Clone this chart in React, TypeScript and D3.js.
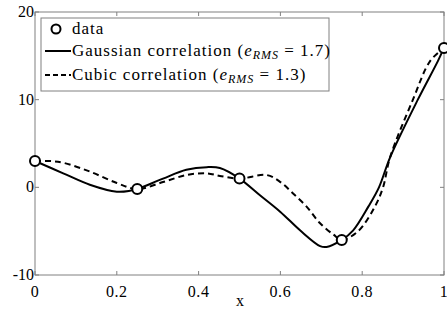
import * as d3 from "d3";
import { useEffect, useRef } from "react";

// sample points (x) and observed values
const dataX = [0, 0.25, 0.5, 0.75, 1];
const dataY = [3.0, -0.2, 1.0, -6.0, 15.9];

// Gaussian correlation curve
const gaussX = [0, 0.069, 0.134, 0.2, 0.232, 0.25, 0.313, 0.37, 0.42, 0.452, 0.5, 0.55, 0.6, 0.648, 0.697, 0.713, 0.75, 0.778, 0.815, 0.841, 0.868, 0.936, 0.985, 1];
const gaussY = [3.0, 1.6, 0.3, -0.5, -0.4, -0.2, 1.0, 2.0, 2.3, 2.2, 1.0, -0.9, -2.8, -4.9, -6.7, -6.8, -6.0, -4.9, -2.2, 0, 3.4, 10, 14.4, 15.9];

// Cubic correlation curve
const cubicX = [0, 0.037, 0.069, 0.134, 0.2, 0.25, 0.313, 0.37, 0.42, 0.452, 0.5, 0.567, 0.6, 0.631, 0.664, 0.697, 0.73, 0.75, 0.79, 0.831, 0.851, 0.868, 0.924, 0.966, 1];
const cubicY = [3.0, 3.0, 2.8, 1.8, 0.5, -0.2, 0.6, 1.4, 1.6, 1.3, 1.0, 1.4, 0.6, -0.7, -2.2, -4.1, -5.4, -6.0, -5.0, -2.2, 0, 3.4, 10, 14.4, 15.9];

const xTicks = [0, 0.2, 0.4, 0.6, 0.8, 1];
const xTickLabels = ["0", "0.2", "0.4", "0.6", "0.8", "1"];
const yTicks = [-10, 0, 10, 20];

const FONT = "Liberation Serif";

export default function App() {
  const svgRef = useRef<SVGSVGElement>(null);

  useEffect(() => {
    if (!svgRef.current) return;
    const svg = d3.select(svgRef.current);
    svg.selectAll("*").remove();

    const left = 35, right = 444, top = 12, bottom = 275;
    const x = d3.scaleLinear().domain([0, 1]).range([left, right]);
    const y = d3.scaleLinear().domain([-10, 20]).range([bottom, top]);

    const axisColor = "#808080";

    // frame
    svg.append("rect")
      .attr("x", left).attr("y", top)
      .attr("width", right - left).attr("height", bottom - top)
      .attr("fill", "white").attr("stroke", axisColor).attr("stroke-width", 1);

    // inward ticks
    const tl = 4;
    xTicks.forEach((t) => {
      svg.append("line").attr("x1", x(t)).attr("x2", x(t)).attr("y1", bottom).attr("y2", bottom - tl).attr("stroke", axisColor);
      svg.append("line").attr("x1", x(t)).attr("x2", x(t)).attr("y1", top).attr("y2", top + tl).attr("stroke", axisColor);
    });
    yTicks.forEach((t) => {
      svg.append("line").attr("x1", left).attr("x2", left + tl).attr("y1", y(t)).attr("y2", y(t)).attr("stroke", axisColor);
      svg.append("line").attr("x1", right).attr("x2", right - tl).attr("y1", y(t)).attr("y2", y(t)).attr("stroke", axisColor);
    });

    // tick labels
    xTicks.forEach((t, i) => {
      svg.append("text")
        .attr("x", x(t)).attr("y", bottom + 22)
        .attr("text-anchor", "middle")
        .attr("font-family", FONT).attr("font-size", 16).attr("letter-spacing", 0.6)
        .text(xTickLabels[i]);
    });
    yTicks.forEach((t) => {
      svg.append("text")
        .attr("x", left - 1).attr("y", y(t) + 5)
        .attr("text-anchor", "end")
        .attr("font-family", FONT).attr("font-size", 16)
        .text(String(t));
    });
    svg.append("text")
      .attr("x", 240).attr("y", 306)
      .attr("text-anchor", "middle")
      .attr("font-family", FONT).attr("font-size", 16)
      .text("x");

    const lineGen = d3.line().curve(d3.curveCatmullRom.alpha(0.5));
    const gaussPts = gaussX.map((v, i) => [x(v), y(gaussY[i])] as [number, number]);
    const cubicPts = cubicX.map((v, i) => [x(v), y(cubicY[i])] as [number, number]);

    svg.append("path")
      .attr("d", lineGen(gaussPts) || "")
      .attr("fill", "none").attr("stroke", "black").attr("stroke-width", 2);
    svg.append("path")
      .attr("d", lineGen(cubicPts) || "")
      .attr("fill", "none").attr("stroke", "black").attr("stroke-width", 2)
      .attr("stroke-dasharray", "6,4");

    svg.selectAll("circle.data")
      .data(dataX)
      .enter()
      .append("circle")
      .attr("cx", (d) => x(d))
      .attr("cy", (_, i) => y(dataY[i]))
      .attr("r", 5)
      .attr("fill", "white").attr("stroke", "black").attr("stroke-width", 2);

    // legend
    const lg = svg.append("g");
    lg.append("rect")
      .attr("x", 41).attr("y", 18).attr("width", 288).attr("height", 73)
      .attr("fill", "white").attr("stroke", axisColor);
    lg.append("circle").attr("cx", 56).attr("cy", 29).attr("r", 4.5)
      .attr("fill", "white").attr("stroke", "black").attr("stroke-width", 2);
    lg.append("line").attr("x1", 45).attr("x2", 71).attr("y1", 51).attr("y2", 51)
      .attr("stroke", "black").attr("stroke-width", 2);
    lg.append("line").attr("x1", 45).attr("x2", 71).attr("y1", 75).attr("y2", 75)
      .attr("stroke", "black").attr("stroke-width", 2).attr("stroke-dasharray", "5,3");

    const addText = (yy: number, main: string, val?: string) => {
      const t = lg.append("text").attr("x", 72).attr("y", yy)
        .attr("font-family", FONT).attr("font-size", 17).attr("letter-spacing", 1);
      t.append("tspan").text(main);
      if (val) {
        t.append("tspan").text(" (");
        t.append("tspan").attr("font-style", "italic").text("e");
        t.append("tspan").attr("font-style", "italic").attr("font-size", 12)
          .attr("dy", 3).text("RMS");
        t.append("tspan").attr("dy", -3).text(" = " + val + ")");
      }
    };
    addText(34, "data");
    addText(56, "Gaussian correlation", "1.7");
    addText(80, "Cubic correlation", "1.3");
  }, []);

  return (
    <svg
      ref={svgRef}
      width={447}
      height={309}
      style={{ position: "absolute", left: 0, top: 0, background: "white" }}
    />
  );
}
